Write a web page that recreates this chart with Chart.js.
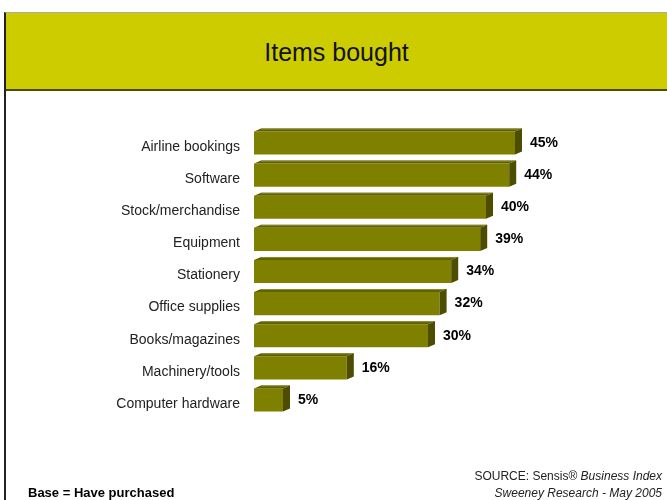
<!DOCTYPE html>
<html>
<head>
<meta charset="utf-8">
<script src="https://cdn.jsdelivr.net/npm/chart.js@4"></script>
<style>
  html, body { margin: 0; padding: 0; background: #fff; }
  #wrap { position: relative; width: 667px; height: 500px; overflow: hidden; font-family: "Liberation Sans", Arial, sans-serif; }
  #frame { position: absolute; left: 4px; top: 12px; width: 680px; height: 500px; border-left: 2px solid #222; border-top: 1px solid #aaa; }
  #band { position: absolute; left: 6px; top: 13px; width: 661px; height: 76px; background: #cccc00; border-bottom: 2px solid #4d4d00; }
  #title { position: absolute; left: 6px; top: 13px; width: 661px; height: 76px; line-height: 78px; text-align: center; font-size: 25px; color: #111; }
  #base { position: absolute; left: 28px; top: 485px; font-size: 13px; font-weight: bold; color: #000; }
  #source { position: absolute; right: 5px; top: 468px; font-size: 12px; color: #222; text-align: right; line-height: 17px; }
  #chart { position: absolute; left: 0; top: 0; }
</style>
</head>
<body>
<div id="wrap">
  <div id="frame"></div>
  <div id="band"></div>
  <div id="title">Items bought</div>
  <canvas id="chart" width="667" height="500"></canvas>
  <div id="base">Base = Have purchased</div>
  <div id="source">SOURCE: Sensis® <i>Business Index</i><br><i>Sweeney Research - May 2005</i></div>
</div>
<script>
const categories = ['Airline bookings', 'Software', 'Stock/merchandise', 'Equipment', 'Stationery',
                    'Office supplies', 'Books/magazines', 'Machinery/tools', 'Computer hardware'];
const percentBought = [45, 44, 40, 39, 34, 32, 30, 16, 5];

// oblique depth of the 3d bars
const DX = 7, DY = 3;

const bar3d = {
  id: 'bar3d',
  afterDatasetsDraw(chart) {
    const ctx = chart.ctx;
    const meta = chart.getDatasetMeta(0);
    ctx.save();
    meta.data.forEach((bar, i) => {
      const h = bar.height;
      const top = bar.y - h / 2, bottom = bar.y + h / 2;
      const left = bar.base, right = bar.x;
      // top face
      ctx.fillStyle = '#616100';
      ctx.beginPath();
      ctx.moveTo(left, top);
      ctx.lineTo(left + DX, top - DY);
      ctx.lineTo(right + DX, top - DY);
      ctx.lineTo(right, top);
      ctx.closePath();
      ctx.fill();
      ctx.strokeStyle = '#8c8c30';
      ctx.lineWidth = 1;
      ctx.beginPath();
      ctx.moveTo(left + DX, top - DY + 0.5);
      ctx.lineTo(right + DX, top - DY + 0.5);
      ctx.stroke();
      // side face
      ctx.fillStyle = '#4d4d00';
      ctx.beginPath();
      ctx.moveTo(right, top);
      ctx.lineTo(right + DX, top - DY);
      ctx.lineTo(right + DX, bottom - DY);
      ctx.lineTo(right, bottom);
      ctx.closePath();
      ctx.fill();
      // value label
      ctx.fillStyle = '#000';
      ctx.font = 'bold 14px "Liberation Sans", Arial, sans-serif';
      ctx.textAlign = 'left';
      ctx.textBaseline = 'middle';
      ctx.fillText(percentBought[i] + '%', right + DX + 8, bar.y);
    });
    ctx.restore();
  }
};

new Chart(document.getElementById('chart'), {
  type: 'bar',
  data: {
    labels: categories,
    datasets: [{
      data: percentBought,
      backgroundColor: '#808000',
      borderWidth: 0,
      barPercentage: 0.72,
      categoryPercentage: 1
    }]
  },
  options: {
    indexAxis: 'y',
    responsive: false,
    animation: false,
    layout: { padding: { top: 127, bottom: 84, left: 0, right: 7 } },
    plugins: { legend: { display: false }, tooltip: { enabled: false } },
    scales: {
      x: { display: false, min: 0, max: 70 },
      y: {
        afterFit: s => { s.width = 254; },
        grid: { display: false, drawTicks: false },
        border: { display: false },
        ticks: {
          padding: 14,
          labelOffset: 4,
          color: '#222',
          font: { family: '"Liberation Sans", Arial, sans-serif', size: 14 }
        }
      }
    }
  },
  plugins: [bar3d]
});
</script>
</body>
</html>
